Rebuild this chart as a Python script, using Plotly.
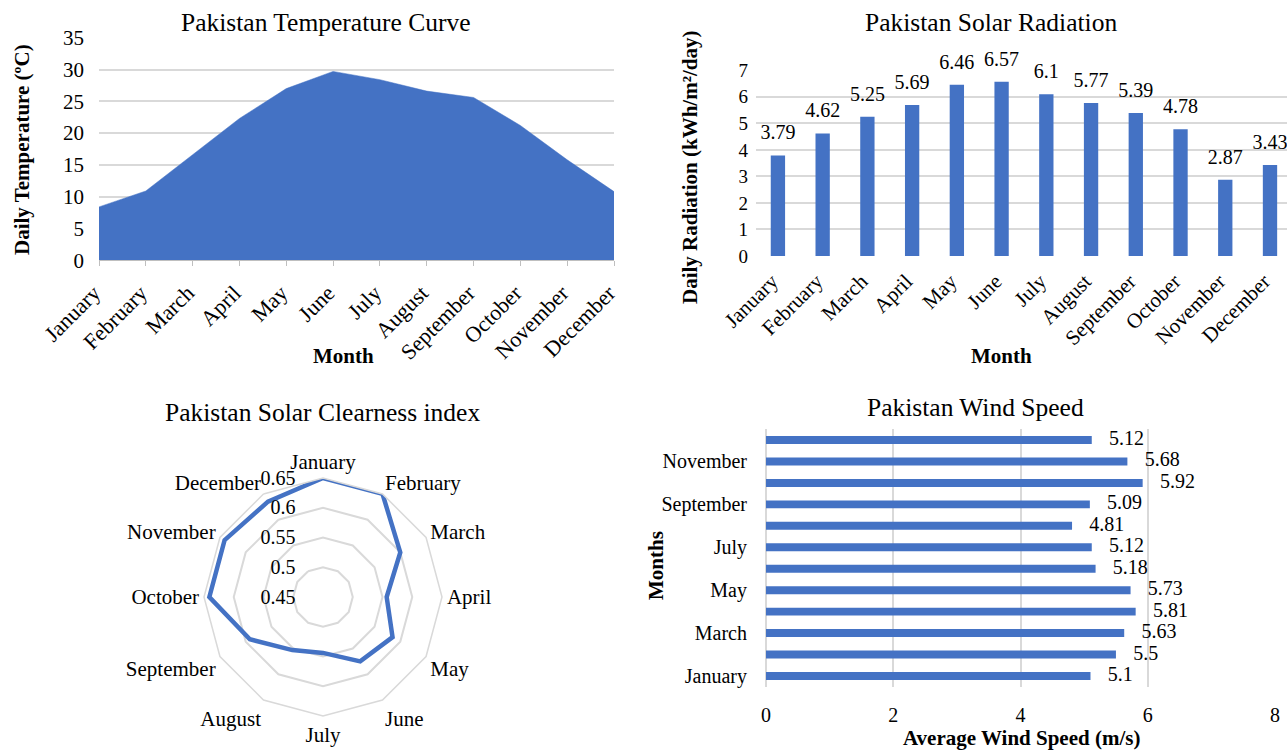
import plotly.graph_objects as go

# ---- data -------------------------------------------------------------
months = ["January", "February", "March", "April", "May", "June", "July",
          "August", "September", "October", "November", "December"]

temperature_c = [8.4, 10.9, 16.6, 22.3, 27.0, 29.7, 28.4, 26.6, 25.6, 21.2, 15.8, 10.8]
radiation_kwh = [3.79, 4.62, 5.25, 5.69, 6.46, 6.57, 6.1, 5.77, 5.39, 4.78, 2.87, 3.43]
clearness_index = [0.65, 0.65, 0.60, 0.557, 0.585, 0.575, 0.544, 0.553, 0.592, 0.641, 0.641, 0.635]
wind_speed_ms = [5.1, 5.5, 5.63, 5.81, 5.73, 5.18, 5.12, 4.81, 5.09, 5.92, 5.68, 5.12]

temp_ticks = [0, 5, 10, 15, 20, 25, 30, 35]
radiation_ticks = [0, 1, 2, 3, 4, 5, 6, 7]
clearness_ticks = [0.45, 0.5, 0.55, 0.6, 0.65]
wind_ticks = [0, 2, 4, 6, 8]
wind_month_ticks = ["January", "March", "May", "July", "September", "November"]

# ---- styling ----------------------------------------------------------
W, H = 1287, 752
BLUE = "#4472C4"
GRID = "#d9d9d9"
FONT = "Liberation Serif, Times New Roman, serif"
INK = "#000000"
CLEAR = "rgba(0,0,0,0)"


def fx(px):
    return px / W


def fy(px):
    return 1 - px / H


fig = go.Figure()

# Temperature area
fig.add_trace(go.Scatter(
    x=months, y=temperature_c, mode="lines", fill="tozeroy",
    line=dict(color=BLUE, width=0.5), fillcolor=BLUE,
    xaxis="x", yaxis="y", showlegend=False, hoverinfo="x+y"))

# Solar radiation bars + value labels
fig.add_trace(go.Bar(
    x=months, y=radiation_kwh, width=0.32, marker=dict(color=BLUE, line=dict(width=0)),
    xaxis="x2", yaxis="y2", showlegend=False))
fig.add_trace(go.Scatter(
    x=months, y=radiation_kwh, mode="markers+text",
    text=[f"{v:g}" for v in radiation_kwh], textposition="top center",
    textfont=dict(family=FONT, size=20, color=INK),
    marker=dict(size=16, opacity=0), cliponaxis=False,
    xaxis="x2", yaxis="y2", showlegend=False, hoverinfo="skip"))

# Clearness index radar
fig.add_trace(go.Scatterpolar(
    r=clearness_index + clearness_index[:1], theta=months + months[:1],
    mode="lines", line=dict(color=BLUE, width=4.5), showlegend=False))

# Wind speed horizontal bars + value labels
fig.add_trace(go.Bar(
    y=months, x=wind_speed_ms, orientation="h", width=0.37,
    marker=dict(color=BLUE, line=dict(width=0)),
    xaxis="x3", yaxis="y3", showlegend=False))
fig.add_trace(go.Scatter(
    y=months, x=wind_speed_ms, mode="markers+text",
    text=[f"{v:g}" for v in wind_speed_ms], textposition="middle right",
    textfont=dict(family=FONT, size=20, color=INK),
    marker=dict(size=26, opacity=0), cliponaxis=False,
    xaxis="x3", yaxis="y3", showlegend=False, hoverinfo="skip"))

tickfont = dict(family=FONT, size=20, color=INK)

fig.update_layout(
    width=W, height=H,
    margin=dict(l=0, r=0, t=0, b=0, autoexpand=False),
    paper_bgcolor="white", plot_bgcolor="white",
    font=dict(family=FONT, color=INK),
    # temperature
    xaxis=dict(domain=[fx(99), fx(614)], anchor="y", type="category",
               categoryorder="array", categoryarray=months, range=[0, 11],
               tickangle=-45, tickfont=dict(family=FONT, size=22, color=INK),
               showgrid=False,
               showline=True, linecolor="#bfbfbf", linewidth=1.2,
               ticks="outside", ticklen=5, tickcolor="#bfbfbf",
               ticklabelstandoff=5, ticklabelshift=-5,
               automargin=False, fixedrange=True),
    yaxis=dict(domain=[fy(260.3), fy(37.7)], anchor="x", range=[0, 35],
               tickvals=temp_ticks, tickfont=dict(family=FONT, size=21, color=INK),
               showgrid=True, gridcolor=GRID, gridwidth=1.5,
               zeroline=False, showline=False, ticklabelstandoff=14,
               automargin=False, fixedrange=True),
    # solar radiation
    xaxis2=dict(domain=[fx(756), 1.0], anchor="y2", type="category",
                categoryorder="array", categoryarray=months, range=[-0.49, 11.38],
                tickangle=-45, tickfont=dict(family=FONT, size=21, color=INK),
                showgrid=False, showline=False, ticks="",
                ticklabelstandoff=8, ticklabelshift=-6,
                automargin=False, fixedrange=True),
    yaxis2=dict(domain=[fy(256), fy(70.3)], anchor="x2", side="left",
                range=[0, 7],
                tickvals=radiation_ticks, tickfont=dict(family=FONT, size=19, color=INK),
                showgrid=True, gridcolor=GRID, gridwidth=1.5,
                zeroline=False, showline=False, ticks="", ticklabelstandoff=7,
                automargin=False, fixedrange=True),
    # wind speed
    xaxis3=dict(domain=[fx(766), fx(1275)], anchor="y3", range=[0, 8],
                tickvals=wind_ticks, tickfont=tickfont,
                showgrid=True, gridcolor=GRID, gridwidth=1.5,
                zeroline=True, zerolinecolor=GRID, zerolinewidth=1.5,
                showline=False, ticklabelstandoff=14, automargin=False, fixedrange=True),
    yaxis3=dict(domain=[fy(686.7), fy(429.3)], anchor="x3", type="category",
                categoryorder="array", categoryarray=months, range=[-0.5, 11.5],
                tickvals=wind_month_ticks, tickfont=tickfont,
                showgrid=False, showline=False, ticks="",
                ticklabelstandoff=18, automargin=False, fixedrange=True),
    # clearness radar
    polar=dict(
        domain=dict(x=[fx(323 - 119), fx(323 + 119)], y=[fy(597 + 119), fy(597 - 119)]),
        gridshape="linear", bgcolor="white",
        angularaxis=dict(rotation=90, direction="clockwise", type="category",
                         categoryorder="array", categoryarray=months,
                         tickfont=dict(family=FONT, size=21, color=INK),
                         showgrid=False, showline=True, linecolor=GRID, linewidth=1.5,
                         ticks=""),
        radialaxis=dict(range=[0.45, 0.65], tickvals=clearness_ticks, angle=90,
                        side="counterclockwise", tickangle=90,
                        tickfont=dict(family=FONT, size=20, color=INK),
                        showline=False, showgrid=True, gridcolor=GRID, gridwidth=1.5,
                        ticks="outside", ticklen=20, tickcolor=CLEAR),
    ),
)

# titles and axis titles
title_font = dict(family=FONT, size=25.5, color=INK)
axis_title_font = dict(family=FONT, size=21, color=INK)
text_items = [
    ("Pakistan Temperature Curve", 326, 22, 0, title_font),
    ("Pakistan Solar Radiation", 991, 22, 0, title_font),
    ("Pakistan Solar Clearness index", 322, 412, 0, title_font),
    ("Pakistan Wind Speed", 975, 408, 0, title_font),
    ("<b>Month</b>", 343, 356, 0, axis_title_font),
    ("<b>Daily Temperature (ºC)</b>", 22, 150, -90, axis_title_font),
    ("<b>Month</b>", 1002, 356, 0, axis_title_font),
    ("<b>Daily Radiation (kWh/m²/day)</b>", 690, 167, -90, axis_title_font),
    ("<b>Months</b>", 656, 566, -90, axis_title_font),
    ("<b>Average Wind Speed (m/s)</b>", 1021, 738, 0, axis_title_font),
]
for txt, px, py, ang, fnt in text_items:
    fig.add_annotation(text=txt, x=fx(px), y=fy(py), xref="paper", yref="paper",
                       xanchor="center", yanchor="middle", textangle=ang,
                       showarrow=False, font=fnt)

fig.write_html("out.html")
